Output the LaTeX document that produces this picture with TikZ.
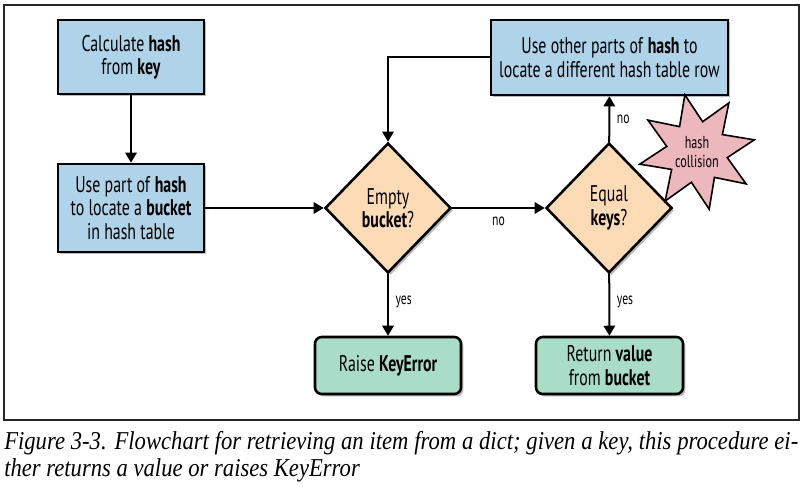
\documentclass[tikz,border=0pt]{standalone}
\usepackage{fontspec}
\setmainfont{PT Sans}[FakeStretch=0.7]
\newfontfamily\capfont{Liberation Serif}[FakeStretch=0.88]
\usetikzlibrary{shapes.geometric,arrows.meta,shadows}
\definecolor{boxblue}{HTML}{AFD3E8}
\definecolor{boxpeach}{HTML}{FDDBB6}
\definecolor{boxgreen}{HTML}{A9DDC8}
\definecolor{boxpink}{HTML}{EDB7BE}
\tikzset{
  shad/.style={drop shadow={shadow xshift=1.8pt, shadow yshift=-1.8pt, opacity=0.45, fill=black!60}},
  procbox/.style={draw=black, line width=1.9pt, fill=boxblue, shad, align=center, inner sep=0pt,
    font=\fontsize{17}{17.5}\selectfont},
  decbox/.style={diamond, draw=black, line width=1.9pt, fill=boxpeach, shad, align=center, inner sep=0pt,
    minimum width=94.5pt, minimum height=97.5pt, font=\fontsize{17}{17.5}\selectfont},
  endbox/.style={draw=black, line width=1.9pt, fill=boxgreen, shad, rounded corners=5pt, align=center, inner sep=0pt,
    font=\fontsize{17}{17.5}\selectfont},
  conn/.style={line width=1.5pt, -{Triangle[length=7.5pt, width=8.5pt]}},
  lbl/.style={font=\fontsize{12.5}{14}\selectfont, inner sep=0pt},
  capt/.style={anchor=base west, inner sep=0pt, font=\capfont\itshape\fontsize{19.3}{22}\selectfont},
}
\begin{document}
\begin{tikzpicture}[x=0.75pt, y=-0.75pt]
\useasboundingbox (0,0) rectangle (805,492);
\draw[line width=0.8pt, black!85] (4,5) rectangle (799,420);

\node[procbox, minimum width=109.5pt, minimum height=55.5pt] (calc) at (131,57)
  {Calculate \textbf{hash}\\from \textbf{key}};
\node[procbox, minimum width=109.5pt, minimum height=66pt] (use) at (131,208)
  {Use part of \textbf{hash}\\to locate a \textbf{bucket}\\in hash table};
\node[procbox, minimum width=177.75pt, minimum height=56.25pt] (other) at (609.5,57.5)
  {Use other parts of \textbf{hash} to\\locate a different hash table row};
\node[decbox] (empty) at (388,208) {Empty\\\textbf{bucket}?};
\node[decbox] (equal) at (609,208) {Equal\\\textbf{keys}?};
\node[endbox, minimum width=109.5pt, minimum height=42.75pt] (raise) at (388,365.5)
  {Raise \textbf{KeyError}};
\node[endbox, minimum width=110.25pt, minimum height=42.75pt] (ret) at (609.5,365.5)
  {Return \textbf{value}\\from \textbf{bucket}};
\node[star, star points=8, star point ratio=1.9, shape border rotate=12, draw=black, line width=1.2pt,
  fill=boxpink, minimum size=84pt, inner sep=0pt, align=center,
  font=\fontsize{13}{14.5}\selectfont] (coll) at (697,152) {hash\\collision};

\draw[conn] (calc) -- (use);
\draw[conn] (use) -- (empty);
\draw[conn] (empty) -- node[lbl, pos=0.5, below=6pt] {no} (equal);
\draw[conn] (empty) -- node[lbl, pos=0.45, right=5pt] {yes} (raise);
\draw[conn] (equal) -- node[lbl, pos=0.45, right=5pt] {yes} (ret);
\draw[conn] (equal) -- node[lbl, pos=0.5, right=5pt] {no} (other);
\draw[conn] (other.west) -| (empty.north);

\node[capt] (cap1) at (4,449)
  {\makebox[595.5pt][s]{Figure 3-3. Flowchart for retrieving an item from a dict; given a key, this procedure ei-}};
\node[capt] (cap2) at (4,476)
  {ther returns a value or raises KeyError};
\end{tikzpicture}
\end{document}
